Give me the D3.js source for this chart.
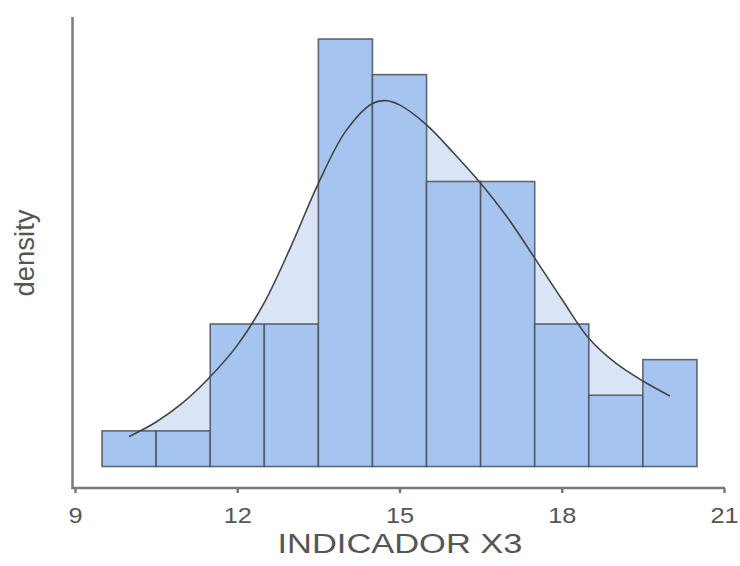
<!DOCTYPE html>
<html>
<head>
<meta charset="utf-8">
<script src="https://cdn.jsdelivr.net/npm/d3@7"></script>
<style>
  body { margin: 0; background: #fff; }
  svg { display: block; }
  text { font-family: "Liberation Sans", Arial, sans-serif; fill: #555; }
</style>
</head>
<body>
<svg id="chart" width="740" height="566"></svg>
<script>
// histogram bins (left edges, width 1) and counts
const binLefts = [9.5, 10.5, 11.5, 12.5, 13.5, 14.5, 15.5, 16.5, 17.5, 18.5, 19.5];
const binCounts = [1, 1, 4, 4, 12, 11, 8, 8, 4, 2, 3];

// density curve, in count units
const curveX = [10, 10.5, 11, 11.5, 12, 12.5, 13, 13.5, 14, 14.5, 14.75, 15, 15.5, 16, 16.5, 17, 17.5, 18, 18.5, 19, 19.5, 20];
const curveY = [0.84, 1.25, 1.8, 2.52, 3.4, 4.6, 6.2, 7.95, 9.4, 10.19, 10.27, 10.15, 9.59, 8.8, 7.95, 6.98, 5.85, 4.7, 3.6, 2.9, 2.4, 1.98];

const xTicks = [9, 12, 15, 18, 21];
const xTitle = 'INDICADOR X3';
const yTitle = 'density';

const svg = d3.select('#chart');

const x = d3.scaleLinear().domain([9, 21]).range([75, 724]);
const y = d3.scaleLinear().domain([0, 12]).range([466.5, 39]);

const curvePts = curveX.map((v, i) => ({ x: v, y: curveY[i] }));
const smooth = d3.curveCatmullRom.alpha(0.5);

// light fill under the density curve (behind the bars)
svg.append('path')
  .datum(curvePts)
  .attr('fill', '#d9e4f6')
  .attr('d', d3.area()
    .x(d => x(d.x))
    .y0(y(0))
    .y1(d => y(d.y))
    .curve(smooth));

// bars
svg.append('g')
  .selectAll('rect')
  .data(binLefts.map((b, i) => ({ b, c: binCounts[i] })))
  .join('rect')
  .attr('x', d => x(d.b))
  .attr('width', d => x(d.b + 1) - x(d.b))
  .attr('y', d => y(d.c))
  .attr('height', d => y(0) - y(d.c))
  .attr('fill', '#a6c4f0')
  .attr('stroke', '#4d4f55')
  .attr('stroke-opacity', 0.85)
  .attr('stroke-width', 1.6);

// density line
svg.append('path')
  .datum(curvePts)
  .attr('fill', 'none')
  .attr('stroke', '#444')
  .attr('stroke-width', 1.6)
  .attr('d', d3.line()
    .x(d => x(d.x))
    .y(d => y(d.y))
    .curve(smooth));

// axes
const axisColor = '#7a7a7a';
svg.append('line')
  .attr('x1', 72.5).attr('x2', 72.5)
  .attr('y1', 17).attr('y2', 489)
  .attr('stroke', axisColor).attr('stroke-width', 2.5);

const xAxis = svg.append('g')
  .attr('transform', 'translate(0,488)')
  .call(d3.axisBottom(x).tickValues(xTicks).tickSize(5).tickSizeOuter(0).tickFormat(d3.format('d')));
xAxis.select('.domain')
  .attr('d', `M71.5,0H${x(21) + 1}`)
  .attr('stroke', axisColor).attr('stroke-width', 2.5);
xAxis.selectAll('.tick line').attr('stroke', axisColor).attr('stroke-width', 2.5);
xAxis.selectAll('.tick text')
  .attr('y', 0)
  .attr('dy', 0)
  .attr('transform', 'translate(0,35) scale(1.15,1)')
  .style('font-size', '22px')
  .style('font-family', '"Liberation Sans", Arial, sans-serif')
  .attr('fill', '#555');

// titles
svg.append('text')
  .attr('x', 400)
  .attr('y', 553)
  .attr('text-anchor', 'middle')
  .attr('textLength', 245)
  .attr('lengthAdjust', 'spacingAndGlyphs')
  .style('font-size', '27px')
  .text(xTitle);

svg.append('text')
  .attr('transform', 'translate(34,253) rotate(-90)')
  .attr('text-anchor', 'middle')
  .attr('textLength', 87)
  .attr('lengthAdjust', 'spacingAndGlyphs')
  .style('font-size', '27px')
  .text(yTitle);
</script>
</body>
</html>
